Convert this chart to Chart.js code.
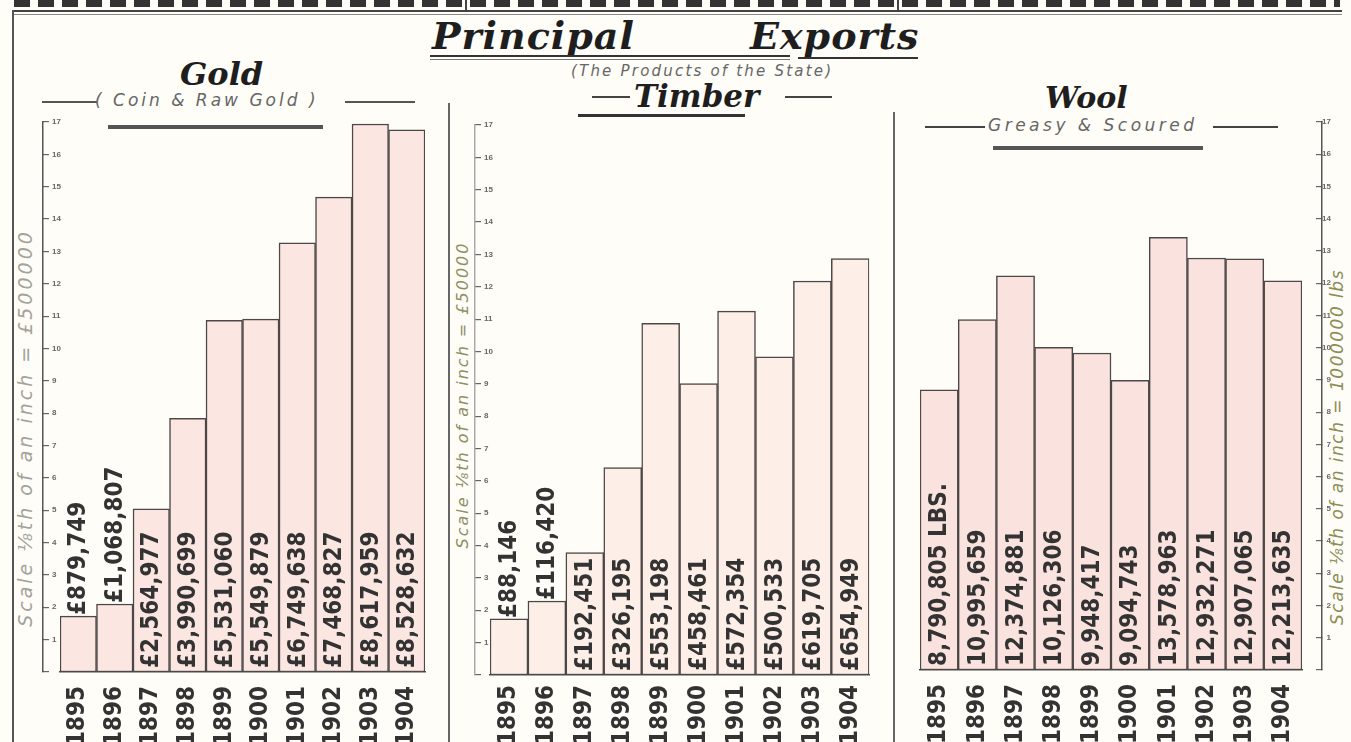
<!DOCTYPE html>
<html>
<head>
<meta charset="utf-8">
<script src="https://cdn.jsdelivr.net/npm/chart.js@4.4.1/dist/chart.umd.min.js"></script>
<style>
html,body{margin:0;padding:0;background:#fefdf8;}
body{width:1351px;height:742px;position:relative;overflow:hidden;font-family:"DejaVu Sans",sans-serif;color:#222;}
.a{position:absolute;white-space:nowrap;}
.ln{position:absolute;background:#444;}
.cv{position:absolute;}
.title{font-family:"DejaVu Serif","Liberation Serif",serif;font-style:italic;font-weight:bold;color:#1e1e1e;}
.hand{font-family:"DejaVu Sans",sans-serif;font-style:italic;color:#666;}
.rot{transform:translate(-50%,-50%) rotate(-90deg);}
</style>
</head>
<body>
<!-- top strip remnants -->
<div class="a" style="left:14px;top:0;width:1326px;height:7px;background:repeating-linear-gradient(90deg,#333 0 16px,transparent 16px 24px);"></div>
<div class="ln" style="left:12px;top:10px;width:1330px;height:2px;"></div>
<div class="ln" style="left:12px;top:14px;width:1330px;height:1px;background:#888;"></div>
<div class="ln" style="left:465px;top:0;width:2px;height:11px;"></div>
<div class="ln" style="left:897px;top:0;width:2px;height:11px;"></div>
<!-- frame -->
<div class="ln" style="left:12px;top:10px;width:2px;height:732px;background:#555;"></div>
<div class="ln" style="left:448px;top:103px;width:1.5px;height:639px;background:#666;"></div>
<div class="ln" style="left:893px;top:112px;width:1.5px;height:630px;background:#666;"></div>

<!-- main title -->
<div class="a title" style="left:432px;top:13px;font-size:38px;letter-spacing:1px;">Principal</div>
<div class="a title" style="left:750px;top:13px;font-size:38px;letter-spacing:1px;">Exports</div>
<div class="ln" style="left:430px;top:55px;width:360px;height:2px;background:#333;"></div>
<div class="ln" style="left:430px;top:59px;width:360px;height:1px;background:#777;"></div>
<div class="ln" style="left:798px;top:57px;width:120px;height:2px;background:#333;"></div>
<div class="a hand" style="left:571px;top:62px;font-size:15px;letter-spacing:2.2px;">(The Products of the State)</div>

<!-- Gold heading -->
<div class="a title" style="left:180px;top:55px;font-size:32px;">Gold</div>
<div class="ln" style="left:42px;top:101px;width:55px;height:1.5px;background:#555;"></div>
<div class="a hand" style="left:95px;top:90px;font-size:17px;letter-spacing:3px;">( Coin &amp; Raw Gold )</div>
<div class="ln" style="left:345px;top:101px;width:70px;height:1.5px;background:#555;"></div>
<div class="ln" style="left:108px;top:125px;width:215px;height:4px;background:#555;"></div>

<!-- Timber heading -->
<div class="ln" style="left:592px;top:96px;width:38px;height:2px;background:#444;"></div>
<div class="a title" style="left:634px;top:78px;font-size:31px;">Timber</div>
<div class="ln" style="left:785px;top:96px;width:47px;height:2px;background:#444;"></div>
<div class="ln" style="left:578px;top:114px;width:167px;height:3px;background:#333;"></div>

<!-- Wool heading -->
<div class="a title" style="left:1045px;top:80px;font-size:30px;">Wool</div>
<div class="ln" style="left:925px;top:126px;width:60px;height:1.5px;background:#444;"></div>
<div class="a hand" style="left:988px;top:115px;font-size:17px;letter-spacing:3.5px;">Greasy &amp; Scoured</div>
<div class="ln" style="left:1213px;top:126px;width:65px;height:1.5px;background:#444;"></div>
<div class="ln" style="left:993px;top:146px;width:210px;height:4px;background:#555;"></div>

<!-- scale notes -->
<div class="a hand rot" style="left:25px;top:428px;font-size:19px;color:#a3a39a;letter-spacing:3px;">Scale ⅛th of an inch = £500000</div>
<div class="a hand rot" style="left:462px;top:395px;font-size:16px;color:#8e8f62;letter-spacing:2px;">Scale ⅛th of an inch = £50000</div>
<div class="a hand rot" style="left:1337px;top:447px;font-size:17px;color:#8d8d55;letter-spacing:1.5px;">Scale ⅛th of an inch = 1000000 lbs</div>

<canvas id="gold" class="cv" width="430" height="642" style="left:20px;top:100px;"></canvas>
<canvas id="timber" class="cv" width="438" height="642" style="left:452px;top:100px;"></canvas>
<canvas id="wool" class="cv" width="451" height="642" style="left:900px;top:100px;"></canvas>

<script>
const years = ['1895','1896','1897','1898','1899','1900','1901','1902','1903','1904'];
const goldValues = [879749, 1068807, 2564977, 3990699, 5531060, 5549879, 6749638, 7468827, 8617959, 8528632];
const timberValues = [88146, 116420, 192451, 326195, 553198, 458461, 572354, 500533, 619705, 654949];
const woolValues = [8790805, 10995659, 12374881, 10126306, 9948417, 9094743, 13578963, 12932271, 12907065, 12213635];
const goldLabels = ['£879,749','£1,068,807','£2,564,977','£3,990,699','£5,531,060','£5,549,879','£6,749,638','£7,468,827','£8,617,959','£8,528,632'];
const timberLabels = ['£88,146','£116,420','£192,451','£326,195','£553,198','£458,461','£572,354','£500,533','£619,705','£654,949'];
const woolLabels = ['8,790,805 LBS.','10,995,659','12,374,881','10,126,306','9,948,417','9,094,743','13,578,963','12,932,271','12,907,065','12,213,635'];

const LABEL_FONT = 'bold 24px "DejaVu Sans Condensed", "Liberation Sans Narrow", sans-serif';

const barLabelPlugin = {
  id: 'barLabels',
  afterDatasetsDraw(chart, args, opts) {
    const meta = chart.getDatasetMeta(0);
    const ctx = chart.ctx;
    ctx.save();
    ctx.font = LABEL_FONT;
    ctx.fillStyle = '#333';
    ctx.textAlign = 'left';
    ctx.textBaseline = 'middle';
    meta.data.forEach((bar, i) => {
      const text = opts.labels[i];
      const w = ctx.measureText(text).width;
      const h = bar.base - bar.y;
      let start = bar.base - 4;
      if (h < w * 0.7) start = bar.y - 1;
      ctx.save();
      ctx.translate(bar.x + 1, start);
      ctx.rotate(-Math.PI / 2);
      ctx.fillText(text, 0, 0);
      ctx.restore();
    });
    ctx.restore();
  }
};

function makeChart(id, values, labels, cfg) {
  return new Chart(document.getElementById(id), {
    type: 'bar',
    data: {
      labels: years,
      datasets: [{
        data: values,
        backgroundColor: cfg.fill,
        borderColor: '#4d4848',
        borderWidth: 1.5,
        borderSkipped: false,
        barPercentage: 1,
        categoryPercentage: 1,
        yAxisID: 'y'
      }]
    },
    options: {
      responsive: false,
      animation: false,
      devicePixelRatio: 1,
      layout: { padding: cfg.padding },
      plugins: {
        legend: { display: false },
        tooltip: { enabled: false },
        barLabels: { labels: labels }
      },
      scales: {
        x: {
          grid: { display: false, drawTicks: false },
          border: { display: true, color: '#4d4848', width: 1.5 },
          ticks: {
            autoSkip: false, minRotation: 90, maxRotation: 90,
            padding: cfg.xpad,
            color: '#333',
            font: { family: '"DejaVu Sans Condensed", "Liberation Sans Narrow", sans-serif', size: 24, weight: 'bold' }
          },
          afterFit: s => { s.height = cfg.xh; }
        },
        y: {
          position: cfg.side, weight: 0, min: 0, max: cfg.max,
          ticks: { display: false },
          grid: { display: false },
          border: { display: false },
          afterFit: s => { s.width = cfg.gap; }
        },
        ruler: {
          position: cfg.side, weight: 1, min: 0, max: cfg.max,
          ticks: {
            stepSize: cfg.step, mirror: true, padding: 9, color: '#666',
            font: { size: 8, weight: 'bold' },
            callback: v => v === 0 ? '' : String(Math.round(v / cfg.step))
          },
          grid: { drawOnChartArea: false, tickLength: -6, color: '#666', lineWidth: 1.2 },
          border: { display: true, color: cfg.rulerColor, width: 1.5 },
          afterFit: s => { s.width = cfg.rulerW; }
        }
      }
    },
    plugins: [barLabelPlugin]
  });
}

makeChart('gold', goldValues, goldLabels, {
  fill: '#fbe6e2', padding: { top: 22, right: 8, left: 0, bottom: 0 },
  side: 'left', gap: 17, rulerW: 23, xh: 70, xpad: 14,
  max: 8650000, step: 500000, rulerColor: '#555'
});
makeChart('timber', timberValues, timberLabels, {
  fill: '#fdeee7', padding: { top: 25, right: 18, left: 0, bottom: 0 },
  side: 'left', gap: 15, rulerW: 23, xh: 67, xpad: 10,
  max: 865000, step: 50000, rulerColor: '#aaa'
});
makeChart('wool', woolValues, woolLabels, {
  fill: '#fae2de', padding: { top: 22, right: 0, left: 20, bottom: 0 },
  side: 'right', gap: 20, rulerW: 29, xh: 72, xpad: 14,
  max: 17200000, step: 1000000, rulerColor: '#555'
});
</script>
</body>
</html>
